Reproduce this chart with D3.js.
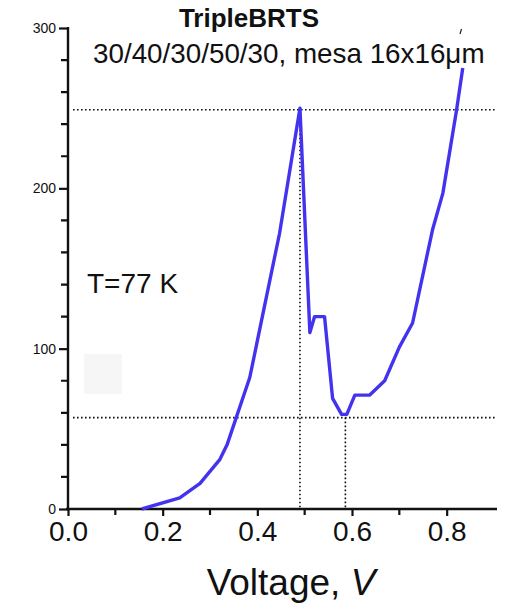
<!DOCTYPE html>
<html>
<head>
<meta charset="utf-8">
<script src="https://cdn.jsdelivr.net/npm/d3@7"></script>
<style>
  body { margin: 0; background: #fff; }
  text { font-family: Arial, "Liberation Sans", sans-serif; fill: #111; }
</style>
</head>
<body>
<div id="chart"></div>
<script>
// measured I-V curve (voltage in V, current in arb. units)
var voltage = [0.156, 0.236, 0.279, 0.321, 0.336, 0.384, 0.447, 0.490, 0.511, 0.521, 0.542, 0.559, 0.578, 0.589, 0.606, 0.637, 0.669, 0.700, 0.728, 0.770, 0.792, 0.821, 0.834];
var current = [0, 7, 16, 31, 40, 82, 172, 250, 110, 120, 120, 69, 59, 59, 71, 71, 80, 101, 116, 174, 197, 249, 275];

// dotted guide lines: peak and valley
var peak = { v: 0.490, i: 249 };
var valley = { v: 0.586, i: 57 };

var xTicks = [0.0, 0.2, 0.4, 0.6, 0.8];
var xMinor = [0.1, 0.3, 0.5, 0.7];
var yTicks = [0, 100, 200, 300];
var yMinor = [20, 40, 60, 80, 120, 140, 160, 180, 220, 240, 260, 280];

var width = 505, height = 604;

var svg = d3.select('#chart').append('svg')
  .attr('width', width)
  .attr('height', height);

var x = d3.scaleLinear().domain([0, 0.9]).range([68, 494]);
var y = d3.scaleLinear().domain([0, 300]).range([509, 28]);

// faint background smudge
svg.append('rect')
  .attr('x', 84).attr('y', 354).attr('width', 38).attr('height', 40)
  .attr('fill', '#f6f6f6');

// y axis: labelled ticks from the axis, minor ticks as one path from the scale
var gy = svg.append('g').attr('transform', 'translate(' + x(0) + ',0)');
gy.call(d3.axisLeft(y).tickValues(yTicks).tickSize(9).tickPadding(3));
gy.select('.domain').remove();
gy.selectAll('.tick line').attr('stroke', '#111').attr('stroke-width', 2.2);
gy.selectAll('.tick text').attr('font-size', 14).attr('fill', '#111');
gy.append('path')
  .attr('d', yMinor.map(function(d) { return 'M-7,' + y(d) + 'H0'; }).join(''))
  .attr('fill', 'none')
  .attr('stroke', '#111').attr('stroke-width', 2.2);
gy.append('path')
  .attr('d', 'M0,27V510')
  .attr('stroke', '#111').attr('stroke-width', 2.4);

// x axis
var gx = svg.append('g').attr('transform', 'translate(0,' + y(0) + ')');
gx.call(d3.axisBottom(x).tickValues(xTicks).tickSize(7).tickPadding(5).tickFormat(d3.format('.1f')));
gx.select('.domain').remove();
gx.selectAll('.tick line').attr('stroke', '#111').attr('stroke-width', 2.2);
gx.selectAll('.tick text').attr('font-size', 28).attr('fill', '#111');
gx.append('path')
  .attr('d', xMinor.map(function(d) { return 'M' + x(d) + ',0V6'; }).join(''))
  .attr('fill', 'none')
  .attr('stroke', '#111').attr('stroke-width', 2.2);
gx.append('path')
  .attr('d', 'M66,0H497')
  .attr('stroke', '#111').attr('stroke-width', 2.4);

// dotted guides
var guides = svg.append('g')
  .attr('stroke', '#111')
  .attr('stroke-width', 1.6)
  .attr('stroke-dasharray', '1.6,2.4');

guides.append('line')
  .attr('x1', x(0) + 5).attr('x2', 497)
  .attr('y1', y(peak.i)).attr('y2', y(peak.i));
guides.append('line')
  .attr('x1', x(0) + 5).attr('x2', 497)
  .attr('y1', y(valley.i)).attr('y2', y(valley.i));
guides.append('line')
  .attr('x1', x(peak.v)).attr('x2', x(peak.v))
  .attr('y1', y(peak.i)).attr('y2', y(0));
guides.append('line')
  .attr('x1', x(valley.v)).attr('x2', x(valley.v))
  .attr('y1', y(valley.i)).attr('y2', y(0));

// curve
var curve = d3.line()
  .x(function(d, i) { return x(voltage[i]); })
  .y(function(d, i) { return y(current[i]); });

svg.append('path')
  .datum(current)
  .attr('d', curve)
  .attr('fill', 'none')
  .attr('stroke', '#4433ee')
  .attr('stroke-width', 3.4)
  .attr('stroke-linejoin', 'round');

// stray tick mark from the scan
svg.append('line')
  .attr('x1', 460).attr('y1', 34).attr('x2', 461.5).attr('y2', 29)
  .attr('stroke', '#222').attr('stroke-width', 1.2);

// labels
svg.append('text')
  .attr('x', 249).attr('y', 27)
  .attr('text-anchor', 'middle')
  .attr('font-size', 26).attr('font-weight', 'bold')
  .text('TripleBRTS');

svg.append('text')
  .attr('x', 93).attr('y', 63)
  .attr('font-size', 27.8)
  .text('30/40/30/50/30, mesa 16x16\u03bcm');

svg.append('text')
  .attr('x', 87).attr('y', 293)
  .attr('font-size', 28)
  .text('T=77 K');

var xl = svg.append('text')
  .attr('x', 291).attr('y', 595)
  .attr('text-anchor', 'middle')
  .attr('font-size', 37);
xl.append('tspan').text('Voltage, ');
xl.append('tspan').attr('font-style', 'italic').text('V');
</script>
</body>
</html>
